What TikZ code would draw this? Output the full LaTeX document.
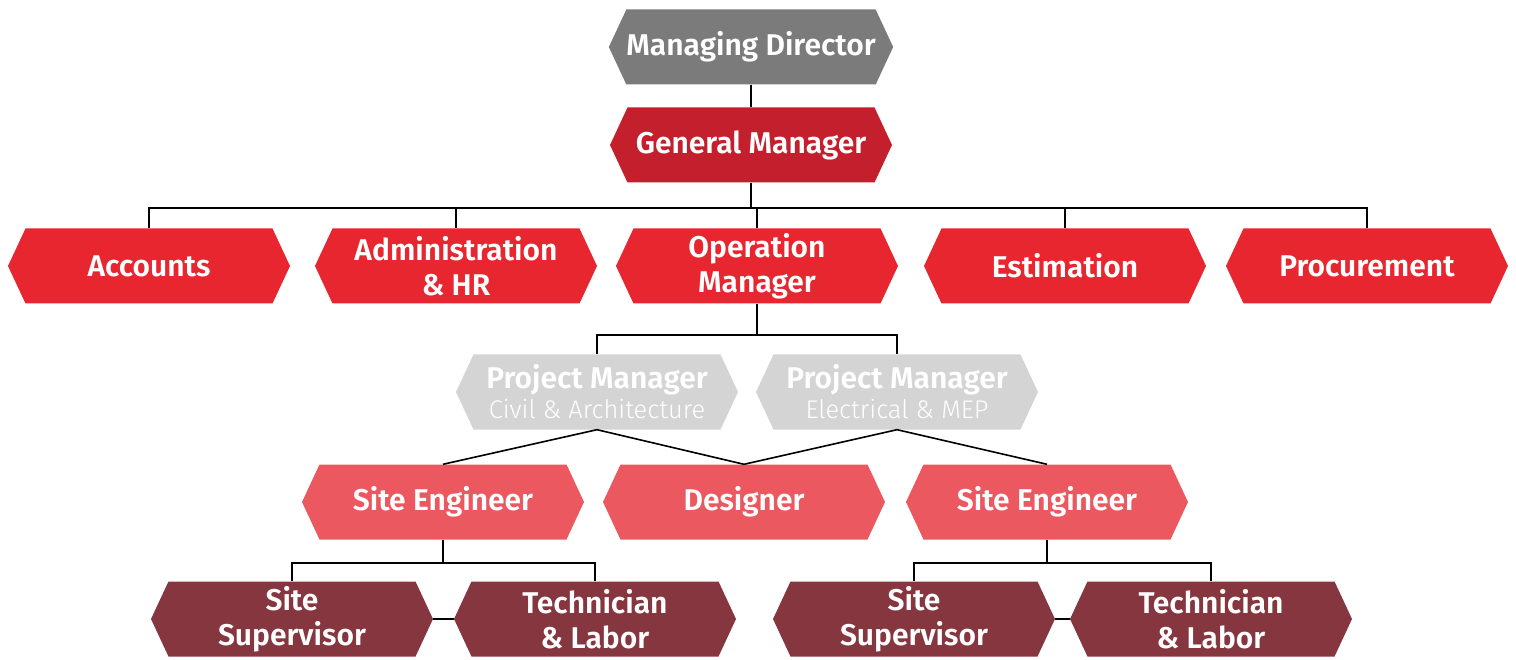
\documentclass[tikz,border=0pt]{standalone}
\usepackage{fontspec}
\setmainfont{Fira Sans}[BoldFont={Fira Sans SemiBold}]
\newfontfamily\pmlight{Fira Sans Light}
\usetikzlibrary{shapes.symbols}
\definecolor{mdgray}{HTML}{7B7B7B}
\definecolor{gmred}{HTML}{C41F2D}
\definecolor{deptred}{HTML}{E8262F}
\definecolor{pmgray}{HTML}{D4D4D4}
\definecolor{engred}{HTML}{EB5860}
\definecolor{staffred}{HTML}{85363F}

\begin{document}
\begin{tikzpicture}[
        x=1pt,y=-1pt,
        hexa/.style={signal,signal to=west and east,signal pointer angle=130,
            minimum width=282pt,minimum height=75pt,inner sep=0pt,
            text=white,align=center,font=\fontsize{30}{35}\selectfont\bfseries},
        conn/.style={line width=1.6pt,black},
    ]
\useasboundingbox (0,0) rectangle (1516,660);

% top
\node[hexa,fill=mdgray] (md) at (751,47) {Managing Director};
\node[hexa,fill=gmred] (gm) at (751,145) {General Manager};

% departments
\node[hexa,fill=deptred] (acc) at (149,266) {Accounts};
\node[hexa,fill=deptred] (adm) at (456,266) {Administration\\\& HR};
\node[hexa,fill=deptred] (op) at (757,266) {Operation\\Manager};
\node[hexa,fill=deptred] (est) at (1065,266) {Estimation};
\node[hexa,fill=deptred] (proc) at (1367,266) {Procurement};

% project managers
\node[hexa,fill=pmgray] (pma) at (597,392) {Project Manager\\[-5pt]{\fontsize{25.5}{28}\selectfont\pmlight\mdseries Civil \& Architecture}};
\node[hexa,fill=pmgray] (pmb) at (897,392) {Project Manager\\[-5pt]{\fontsize{25.5}{28}\selectfont\pmlight\mdseries Electrical \& MEP}};

% site level
\node[hexa,fill=engred] (sea) at (443,502) {Site Engineer};
\node[hexa,fill=engred] (des) at (744,502) {Designer};
\node[hexa,fill=engred] (seb) at (1047,502) {Site Engineer};

% staff
\node[hexa,fill=staffred] (supa) at (292,619) {Site\\Supervisor};
\node[hexa,fill=staffred] (teca) at (595,619) {Technician\\\& Labor};
\node[hexa,fill=staffred] (supb) at (914,619) {Site\\Supervisor};
\node[hexa,fill=staffred] (tecb) at (1211,619) {Technician\\\& Labor};

% connectors
\draw[conn] (md.south) -- (gm.north);
\coordinate (bgm) at (751,208);
\draw[conn] (gm.south) -- (bgm);
\foreach \n in {acc,adm,op,est,proc}
    \draw[conn] (bgm) -| (\n.north);
\coordinate (bop) at (op.south |- 0,335);
\draw[conn] (op.south) -- (bop);
\foreach \n in {pma,pmb}
    \draw[conn] (bop) -| (\n.north);
\draw[conn] (sea.north) -- (pma.south) -- (des.north) -- (pmb.south) -- (seb.north);
\coordinate (bsa) at (sea.south |- 0,563);
\coordinate (bsb) at (seb.south |- 0,563);
\draw[conn] (sea.south) -- (bsa);
\draw[conn] (seb.south) -- (bsb);
\foreach \n in {supa,teca}
    \draw[conn] (bsa) -| (\n.north);
\foreach \n in {supb,tecb}
    \draw[conn] (bsb) -| (\n.north);
\draw[conn] (supa.east) -- (teca.west);
\draw[conn] (supb.east) -- (tecb.west);
\end{tikzpicture}
\end{document}
